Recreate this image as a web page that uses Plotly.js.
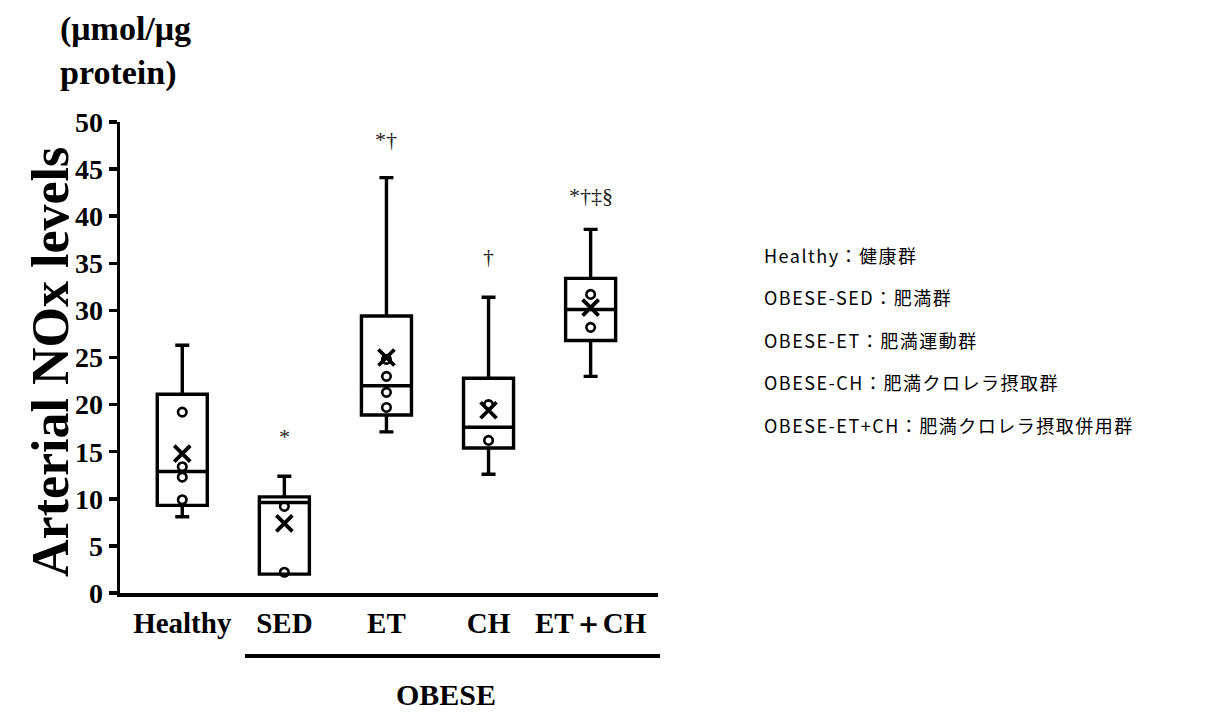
<!DOCTYPE html>
<html>
<head>
<meta charset="utf-8">
<script src="https://cdn.plot.ly/plotly-3.0.1.min.js"></script>
<style>
  html, body { margin: 0; padding: 0; background: #fff; }
  #chart { width: 1225px; height: 713px; }
</style>
</head>
<body>
<div id="chart"></div>
<script>
// ---- data ----
const categories = ['Healthy', 'SED', 'ET', 'CH', 'ET＋CH'];
const lowerWhisker = [8.1, 2.0, 17.1, 12.6, 23.0];
const q1 = [9.3, 2.0, 18.9, 15.4, 26.8];
const median = [12.9, 9.6, 22.0, 17.6, 30.1];
const q3 = [21.1, 10.2, 29.4, 22.8, 33.4];
const upperWhisker = [26.3, 12.4, 44.1, 31.4, 38.6];
const means = [14.8, 7.4, 25.0, 19.4, 30.3];

const pointCategory = ['Healthy', 'Healthy', 'Healthy', 'Healthy', 'SED', 'SED',
  'ET', 'ET', 'ET', 'ET', 'CH', 'CH', 'ET＋CH', 'ET＋CH'];
const pointValue = [19.2, 13.4, 12.3, 9.9, 9.2, 2.2,
  24.8, 23.0, 21.3, 19.7, 20.0, 16.2, 31.7, 28.2];

const sigLabels = ['', '*', '*†', '†', '*†‡§'];
const sigY = [null, 16.6, 48.1, 35.7, 42.2];

const yTickValues = [0, 5, 10, 15, 20, 25, 30, 35, 40, 45, 50];
const yTitle = 'Arterial NOx levels';
const unitLabel = '(μmol/μg<br>protein)';
const groupLabel = 'OBESE';
const legendLines = [
  'Healthy：健康群',
  'OBESE-SED：肥満群',
  'OBESE-ET：肥満運動群',
  'OBESE-CH：肥満クロレラ摂取群',
  'OBESE-ET+CH：肥満クロレラ摂取併用群'
];

// ---- styling ----
const SERIF = 'Liberation Serif, Times New Roman, serif';
const JP = 'Noto Sans CJK JP, sans-serif';

const boxTrace = {
  type: 'box',
  x: categories,
  q1: q1,
  median: median,
  q3: q3,
  lowerfence: lowerWhisker,
  upperfence: upperWhisker,
  width: 0.49,
  whiskerwidth: 0.28,
  line: { color: '#000', width: 3.4 },
  fillcolor: 'rgba(255,255,255,0)',
  boxpoints: false,
  hoverinfo: 'skip',
  showlegend: false
};

const pointTrace = {
  type: 'scatter',
  mode: 'markers',
  x: pointCategory,
  y: pointValue,
  marker: { symbol: 'circle-open', size: 8.5, color: '#000', line: { width: 2.6, color: '#000' } },
  showlegend: false,
  hoverinfo: 'skip'
};

const meanTrace = {
  type: 'scatter',
  mode: 'markers',
  x: categories,
  y: means,
  marker: { symbol: 'x-thin-open', size: 16, color: '#000', line: { width: 3.8, color: '#000' } },
  showlegend: false,
  hoverinfo: 'skip'
};

const annotations = [];
categories.forEach((c, i) => {
  if (sigLabels[i]) {
    annotations.push({
      xref: 'x', yref: 'y', x: c, y: sigY[i],
      text: sigLabels[i], showarrow: false,
      font: { family: SERIF, size: 22, color: '#222' },
      xanchor: 'center', yanchor: 'middle'
    });
  }
});

// y-axis title (rotated)
annotations.push({
  xref: 'paper', yref: 'paper', x: (50 - 120) / 538, y: (593 - 362) / 471,
  xanchor: 'center', yanchor: 'middle', textangle: -90,
  text: yTitle, showarrow: false,
  font: { family: SERIF, size: 52, color: '#000', weight: 700 }
});

// unit label (top-left)
annotations.push({
  xref: 'paper', yref: 'paper', x: (58 - 120) / 538, y: (593 - 8) / 471,
  xanchor: 'left', yanchor: 'top', align: 'left',
  text: unitLabel, showarrow: false,
  font: { family: SERIF, size: 34, color: '#000', weight: 700 }
});

// group label
annotations.push({
  xref: 'paper', yref: 'paper', x: (446 - 120) / 538, y: (593 - 694) / 471,
  xanchor: 'center', yanchor: 'middle',
  text: groupLabel, showarrow: false,
  font: { family: SERIF, size: 30, color: '#000', weight: 700 }
});

// legend-like description lines
const legendYpx = [255, 297, 340, 382, 425];
legendLines.forEach((t, i) => {
  annotations.push({
    xref: 'paper', yref: 'paper', x: (762 - 120) / 538, y: (593 - legendYpx[i]) / 471,
    xanchor: 'left', yanchor: 'middle', align: 'left',
    text: t, showarrow: false,
    font: { family: JP, size: 18, color: '#000' }
  });
});

const layout = {
  width: 1225,
  height: 713,
  margin: { l: 120, r: 567, t: 122, b: 120 },
  paper_bgcolor: '#fff',
  plot_bgcolor: '#fff',
  showlegend: false,
  xaxis: {
    type: 'category',
    categoryorder: 'array',
    categoryarray: categories,
    range: [-0.61, 4.66],
    showline: true, linecolor: '#000', linewidth: 4,
    ticks: '', showgrid: false, zeroline: false,
    tickfont: { family: SERIF, size: 29, color: '#000', weight: 700 },
    ticklabelstandoff: 1,
    fixedrange: true
  },
  yaxis: {
    range: [0, 50],
    tickmode: 'array',
    tickvals: yTickValues,
    ticktext: yTickValues.map(String),
    showline: true, linecolor: '#000', linewidth: 3.5,
    ticks: 'outside', ticklen: 8, tickwidth: 3.5, tickcolor: '#000',
    showgrid: false, zeroline: false,
    tickfont: { family: SERIF, size: 28, color: '#000', weight: 700 },
    ticklabelstandoff: 0,
    fixedrange: true
  },
  shapes: [
    {
      type: 'line', xref: 'paper', yref: 'paper',
      x0: (245 - 120) / 538, x1: (660 - 120) / 538,
      y0: (593 - 656) / 471, y1: (593 - 656) / 471,
      line: { color: '#000', width: 4 }
    }
  ],
  annotations: annotations
};

Plotly.newPlot('chart', [boxTrace, pointTrace, meanTrace], layout, { staticPlot: true, displayModeBar: false }).then(() => {
  document.querySelectorAll('.annotation-text').forEach(el => {
    if (/：/.test(el.textContent)) el.style.letterSpacing = '1.5px';
  });
});
</script>
</body>
</html>
